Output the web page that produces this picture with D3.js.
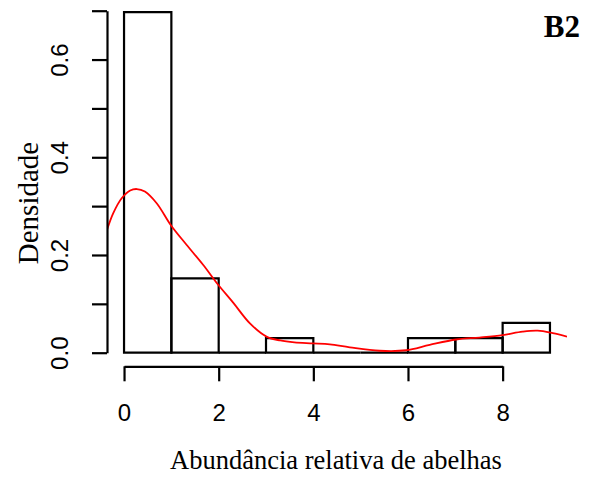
<!DOCTYPE html>
<html><head><meta charset="utf-8">
<script src="https://cdn.jsdelivr.net/npm/d3@7"></script>
<style>body{margin:0;background:#fff}</style>
</head><body>
<svg id="c" width="593" height="479"></svg>
<script>
const binStarts = [0, 1, 2, 3, 4, 5, 6, 7, 8];
const binDensity = [0.697, 0.152, 0, 0.030, 0, 0, 0.030, 0.030, 0.061];
const densX = [-0.36, -0.23, -0.05, 0.13, 0.27, 0.44, 0.69, 0.99, 1.32, 1.67, 1.99, 2.31, 2.66, 3.01, 3.30, 3.60, 3.99, 4.35, 4.77, 5.40, 5.96, 6.46, 7.02, 7.51, 8.00, 8.42, 8.74, 9.06, 9.36];
const densY = [0.251, 0.285, 0.316, 0.332, 0.335, 0.330, 0.306, 0.261, 0.221, 0.180, 0.139, 0.102, 0.060, 0.033, 0.025, 0.021, 0.019, 0.017, 0.011, 0.004, 0.005, 0.016, 0.027, 0.031, 0.036, 0.043, 0.045, 0.040, 0.033];
const xTicks = [0, 2, 4, 6, 8];
const yTicks = [0, 0.1, 0.2, 0.3, 0.4, 0.5, 0.6, 0.7];
const yLabelTicks = [0, 0.2, 0.4, 0.6];
const xTitle = "Abundância relativa de abelhas";
const yTitle = "Densidade";
const panelLabel = "B2";

const svg = d3.select("#c");
const plotL = 107, plotR = 567;
const x = d3.scaleLinear().domain([-0.36, 9.36]).range([plotL, plotR]);
const y = d3.scaleLinear().domain([0, 0.7]).range([352.7, 10.7]);

svg.append("defs").append("clipPath").attr("id", "clip")
  .append("rect").attr("x", plotL).attr("y", 0).attr("width", plotR - plotL).attr("height", 367);

// bars (as closed paths so zero-height bins still draw a line)
svg.append("g").selectAll("path").data(binStarts).join("path")
  .attr("d", (d, i) => {
    const x0 = x(d), x1 = x(d + 1), y0 = y(0), y1 = y(binDensity[i]);
    return `M${x0},${y0}L${x0},${y1}L${x1},${y1}L${x1},${y0}Z`;
  })
  .attr("fill", "none").attr("stroke", "#000").attr("stroke-width", 2.2)
  .attr("stroke-linejoin", "miter");

// density curve
const pts = densX.map((d, i) => [d, densY[i]]);
svg.append("path").datum(pts)
  .attr("clip-path", "url(#clip)")
  .attr("d", d3.line().x(d => x(d[0])).y(d => y(d[1])).curve(d3.curveCatmullRom))
  .attr("fill", "none").attr("stroke", "#ff0000").attr("stroke-width", 1.8);

// y axis
const yAxis = d3.axisLeft(y).tickValues(yTicks).tickSize(15).tickSizeOuter(0)
  .tickFormat(d => yLabelTicks.some(v => Math.abs(v - d) < 1e-9) ? d.toFixed(1) : "");
const gy = svg.append("g").attr("transform", `translate(${plotL},0)`).call(yAxis);
gy.select(".domain").attr("stroke-width", 2.2);
gy.selectAll(".tick line").attr("stroke-width", 2.2);
gy.selectAll(".tick text")
  .attr("transform", "rotate(-90)")
  .attr("x", 0).attr("y", -39).attr("dy", 0)
  .attr("text-anchor", "middle")
  .attr("font-family", "Liberation Sans, Arial, sans-serif")
  .attr("font-size", 24).attr("fill", "#000");

// x axis
const xa = x.copy().domain([0, 8]).range([x(0), x(8)]);
const xAxis = d3.axisBottom(xa).tickValues(xTicks).tickSize(15).tickSizeOuter(0).tickFormat(d3.format("d"));
const gx = svg.append("g").attr("transform", "translate(0,366.3)").call(xAxis);
gx.select(".domain").attr("stroke-width", 2.2);
gx.selectAll(".tick line").attr("stroke-width", 2.2);
gx.selectAll(".tick text")
  .attr("y", 55).attr("dy", 0)
  .attr("font-family", "Liberation Sans, Arial, sans-serif")
  .attr("font-size", 24).attr("fill", "#000");

// titles
svg.append("text").attr("x", 336).attr("y", 469).attr("text-anchor", "middle")
  .attr("font-family", "Liberation Serif, Times New Roman, serif").attr("font-size", 26.5)
  .text(xTitle);
svg.append("text").attr("transform", "translate(38,203) rotate(-90)").attr("text-anchor", "middle")
  .attr("font-family", "Liberation Serif, Times New Roman, serif").attr("font-size", 29)
  .text(yTitle);
svg.append("text").attr("x", 580).attr("y", 37).attr("text-anchor", "end")
  .attr("font-family", "Liberation Serif, Times New Roman, serif").attr("font-size", 31).attr("font-weight", "bold")
  .text(panelLabel);
</script>
</body></html>
